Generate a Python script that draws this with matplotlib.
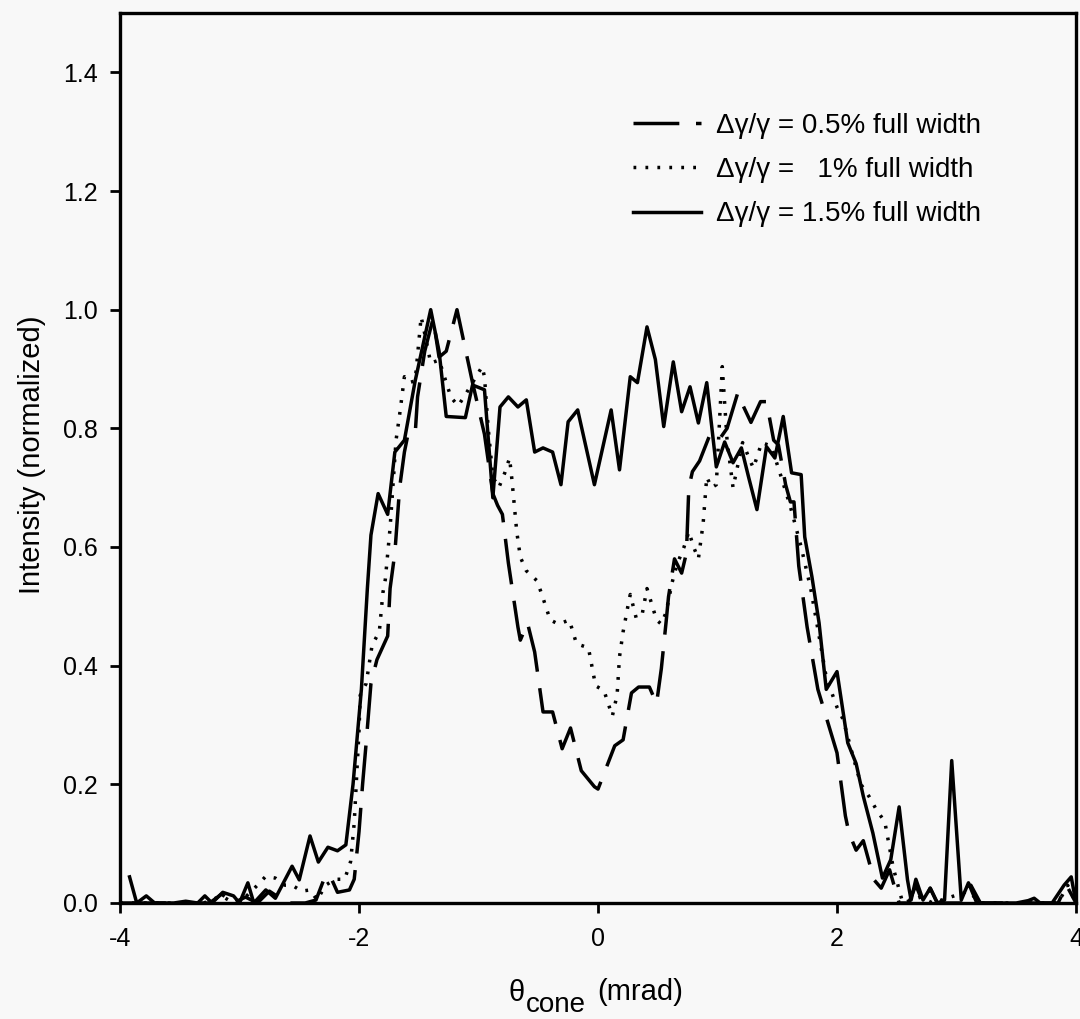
import matplotlib
matplotlib.use("Agg")
import matplotlib.pyplot as plt

plt.rcParams['font.family'] = ['Liberation Sans', 'DejaVu Sans']
plt.rcParams['mathtext.default'] = 'regular'
plt.rcParams['axes.unicode_minus'] = False
plt.rcParams['lines.scale_dashes'] = False

# ---- data ----
theta_05 = [-4.0, -3.5, -3.25, -3.15, -3.05, -2.95, -2.85, -2.75, -2.6, -2.45, -2.36,
            -2.28, -2.24, -2.18, -2.08, -2.04, -2.0, -1.97, -1.94, -1.90, -1.85, -1.76,
            -1.74, -1.70, -1.66, -1.62, -1.59, -1.53, -1.51, -1.45, -1.38, -1.33, -1.27,
            -1.18, -1.05, -0.95, -0.88, -0.84, -0.80, -0.75, -0.67, -0.65, -0.59, -0.53,
            -0.46, -0.38, -0.30, -0.23, -0.14, -0.03, 0.0, 0.14, 0.21, 0.28, 0.34, 0.43,
            0.49, 0.53, 0.57, 0.59, 0.64, 0.70, 0.74, 0.76, 0.79, 0.85, 0.93, 1.00, 1.08,
            1.17, 1.21, 1.28, 1.36, 1.41, 1.47, 1.51, 1.57, 1.61, 1.64, 1.68, 1.75, 1.84,
            2.00, 2.07, 2.10, 2.16, 2.22, 2.31, 2.37, 2.44, 2.52, 2.60, 2.66, 2.72, 2.78,
            2.84, 3.05, 3.12, 3.20, 3.60, 3.85, 3.92, 4.0]
inten_05 = [0.0, 0.0, 0.0, 0.015, 0.0, 0.01, 0.0, 0.02, 0.0, 0.0, 0.005,
            0.047, 0.045, 0.018, 0.022, 0.04, 0.12, 0.20, 0.27, 0.37, 0.41, 0.45,
            0.53, 0.59, 0.70, 0.76, 0.79, 0.79, 0.853, 0.93, 0.985, 0.92, 0.93,
            1.0, 0.877, 0.79, 0.69, 0.67, 0.655, 0.573, 0.465, 0.443, 0.472, 0.423,
            0.322, 0.322, 0.26, 0.295, 0.223, 0.196, 0.192, 0.265, 0.275, 0.354, 0.364, 0.364,
            0.336, 0.395, 0.474, 0.516, 0.58, 0.556, 0.59, 0.70, 0.727, 0.745, 0.786, 0.777, 0.80,
            0.86, 0.84, 0.81, 0.845, 0.845, 0.78, 0.772, 0.705, 0.676, 0.676, 0.568, 0.465, 0.36,
            0.253, 0.147, 0.118, 0.089, 0.105, 0.039, 0.025, 0.056, 0.0, 0.0, 0.03, 0.0, 0.025,
            0.0, 0.0, 0.03, 0.0, 0.0, 0.0, 0.03, 0.0]

theta_10 = [-4.0, -3.5, -3.3, -3.15, -3.05, -2.95, -2.85, -2.78, -2.70, -2.62, -2.56,
            -2.48, -2.41, -2.35, -2.28, -2.20, -2.12, -2.07, -2.04, -2.00, -1.99, -1.94,
            -1.89, -1.83, -1.80, -1.78, -1.74, -1.69, -1.66, -1.62, -1.58, -1.53, -1.48,
            -1.44, -1.40, -1.33, -1.23, -1.17, -1.10, -0.97, -0.95, -0.92, -0.88, -0.83,
            -0.78, -0.74, -0.72, -0.68, -0.65, -0.60, -0.51, -0.47, -0.40, -0.33, -0.24,
            -0.18, -0.08, -0.02, 0.05, 0.12, 0.16, 0.18, 0.21, 0.25, 0.27, 0.32, 0.37,
            0.41, 0.49, 0.53, 0.57, 0.62, 0.66, 0.72, 0.76, 0.80, 0.84, 0.88, 0.91, 0.95,
            0.99, 1.04, 1.08, 1.13, 1.21, 1.30, 1.37, 1.45, 1.53, 1.61, 1.70, 1.78, 1.85,
            1.91, 2.00, 2.05, 2.13, 2.20, 2.27, 2.33, 2.40, 2.47, 2.55, 2.70, 2.80, 3.10,
            3.20, 3.85, 3.93, 4.0]
inten_10 = [0.0, 0.0, 0.0, 0.012, 0.0, 0.01, 0.03, 0.045, 0.042, 0.03, 0.03,
            0.02, 0.022, 0.005, 0.03, 0.04, 0.04, 0.07, 0.135, 0.29, 0.35, 0.37,
            0.435, 0.457, 0.523, 0.545, 0.632, 0.78, 0.823, 0.887, 0.877, 0.88, 0.988,
            0.95, 0.91, 0.915, 0.852, 0.838, 0.86, 0.904, 0.887, 0.803, 0.718, 0.70,
            0.725, 0.75, 0.713, 0.626, 0.583, 0.56, 0.543, 0.52, 0.477, 0.47, 0.477,
            0.437, 0.43, 0.366, 0.358, 0.315, 0.351, 0.415, 0.457, 0.50, 0.52, 0.48, 0.487,
            0.53, 0.477, 0.47, 0.49, 0.54, 0.57, 0.60, 0.626, 0.60, 0.58, 0.64, 0.718, 0.70,
            0.705, 0.904, 0.78, 0.70, 0.776, 0.733, 0.776, 0.77, 0.72, 0.668, 0.60, 0.53, 0.45,
            0.38, 0.33, 0.31, 0.25, 0.20, 0.179, 0.157, 0.137, 0.06, 0.0, 0.01, 0.0, 0.02,
            0.0, 0.0, 0.03, 0.0]

theta_15 = [-3.92, -3.86, -3.78, -3.71, -3.55, -3.45, -3.35, -3.29, -3.23, -3.14, -3.05,
            -3.00, -2.93, -2.88, -2.78, -2.70, -2.56, -2.50, -2.41, -2.34, -2.26, -2.18,
            -2.11, -2.05, -1.98, -1.93, -1.90, -1.84, -1.76, -1.70, -1.62, -1.53, -1.40,
            -1.33, -1.27, -1.11, -1.05, -0.95, -0.88, -0.82, -0.75, -0.67, -0.60, -0.53,
            -0.46, -0.38, -0.31, -0.25, -0.17, -0.03, 0.11, 0.18, 0.27, 0.33, 0.41, 0.48,
            0.55, 0.63, 0.70, 0.77, 0.84, 0.91, 0.99, 1.06, 1.13, 1.20, 1.26, 1.33, 1.41,
            1.48, 1.55, 1.62, 1.70, 1.73, 1.79, 1.85, 1.91, 2.00, 2.09, 2.16, 2.22, 2.30,
            2.38, 2.45, 2.52, 2.59, 2.62, 2.66, 2.72, 2.78, 2.84, 2.90, 2.96, 3.04, 3.10,
            3.17, 3.50, 3.60, 3.65, 3.70, 3.80, 3.90, 3.96, 4.00]
inten_15 = [0.044, 0.0, 0.012, 0.0, 0.0, 0.003, 0.0, 0.012, 0.0, 0.018, 0.012,
            0.0, 0.034, 0.0, 0.022, 0.008, 0.062, 0.039, 0.113, 0.069, 0.094, 0.088,
            0.098, 0.20, 0.36, 0.53, 0.62, 0.69, 0.655, 0.76, 0.78, 0.88, 1.0,
            0.93, 0.82, 0.818, 0.873, 0.865, 0.683, 0.836, 0.853, 0.836, 0.848, 0.76,
            0.767, 0.76, 0.705, 0.811, 0.831, 0.705, 0.831, 0.73, 0.887, 0.877, 0.971, 0.916,
            0.803, 0.912, 0.828, 0.87, 0.809, 0.877, 0.735, 0.777, 0.742, 0.767, 0.718, 0.663, 0.769,
            0.75, 0.82, 0.725, 0.722, 0.617, 0.55, 0.472, 0.36, 0.39, 0.27, 0.235, 0.18, 0.118,
            0.042, 0.073, 0.162, 0.039, 0.005, 0.04, 0.005, 0.025, 0.0, 0.005, 0.24, 0.005, 0.034,
            0.0, 0.0, 0.004, 0.008, 0.0, 0.0, 0.03, 0.044, 0.0]

labels = ['\u0394\u03b3/\u03b3 = 0.5% full width',
          '\u0394\u03b3/\u03b3 =   1% full width',
          '\u0394\u03b3/\u03b3 = 1.5% full width']
xticks = [-4, -2, 0, 2, 4]
yticks = [0.0, 0.2, 0.4, 0.6, 0.8, 1.0, 1.2, 1.4]

W, H = 1080, 1019
bg = '#f8f8f8'
fig = plt.figure(figsize=(W / 100, H / 100), dpi=100, facecolor=bg)
ax = fig.add_axes([120 / W, (H - 903) / H, 956 / W, 890 / H], facecolor=bg)

lw = 2.5
ax.plot(theta_05, inten_05, color='black', lw=lw, linestyle=(0, (33, 12)), label=labels[0])
ax.plot(theta_10, inten_10, color='black', lw=lw, linestyle=(0, (2, 6.6)), label=labels[1])
ax.plot(theta_15, inten_15, color='black', lw=lw, linestyle='-', label=labels[2])

ax.set_xlim(-4, 4)
ax.set_ylim(0, 1.5)
ax.set_xticks(xticks)
ax.set_xticklabels([str(v) for v in xticks])
ax.set_yticks(yticks)
ax.set_yticklabels(['%.1f' % v for v in yticks])
ax.tick_params(axis='both', direction='out', length=7, width=2, labelsize=18,
               colors='black')
ax.tick_params(axis='y', pad=9)
ax.tick_params(axis='x', pad=10)
for s in ax.spines.values():
    s.set_linewidth(2.4)
    s.set_color('black')

# axis titles
fig.text(32 / W, (H - 455) / H, 'Intensity (normalized)', rotation=90,
         ha='center', va='center', fontsize=21)
fig.text(509 / W, (H - 1001) / H, '\u03b8', ha='left', va='baseline', fontsize=21)
fig.text(526 / W, (H - 1012) / H, 'cone', ha='left', va='baseline', fontsize=20)
fig.text(597 / W, (H - 1000) / H, '(mrad)', ha='left', va='baseline', fontsize=21)

leg = ax.legend(loc='upper left', bbox_to_anchor=(0.5366, 0.888), frameon=False,
                borderpad=0, borderaxespad=0, handlelength=2.45, handletextpad=0.55,
                labelspacing=0.66, fontsize=20)

fig.savefig('out.png', dpi=100, facecolor=bg)
